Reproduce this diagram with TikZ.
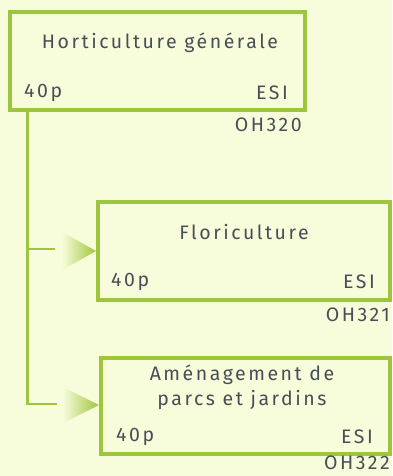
\documentclass[tikz,border=0pt]{standalone}
\usepackage{fontspec}
\setmainfont{Fira Sans}[LetterSpace=13]
\usetikzlibrary{positioning}
\definecolor{bgcol}{RGB}{247,252,218}
\definecolor{leaf}{RGB}{157,198,62}
\definecolor{ink}{RGB}{72,78,88}
\begin{document}
\begin{tikzpicture}[x=1pt,y=-1pt,
    course/.style={draw=leaf,line width=4pt,inner sep=0pt},
    txt/.style={text=ink,font=\fontsize{19.5}{25}\selectfont,inner sep=0pt},
    branch/.style={draw=leaf,line width=2.5pt}]
  \fill[bgcol] (0,0) rectangle (392,476);
  \useasboundingbox (0,0) rectangle (392,476);
  \node[course,minimum width=295pt,minimum height=98pt] (hg) at (157.5,61) {};
  \node[course,minimum width=292pt,minimum height=98pt] (fl) at (244,251) {};
  \node[course,minimum width=289pt,minimum height=96pt] (am) at (245.5,406) {};
  \node[txt] (hgtitle) at (160,43) {Horticulture générale};
  \node[txt,anchor=west] (hgp) at (24,93) {40p};
  \node[txt,anchor=east] (hgesi) at (288,93) {ESI};
  \node[txt,anchor=east] (hgcode) at (302,125) {OH320};
  \node[txt] (fltitle) at (244,232) {Floriculture};
  \node[txt,anchor=west] (flp) at (111,282) {40p};
  \node[txt,anchor=east] (flesi) at (375,282) {ESI};
  \node[txt,anchor=east] (flcode) at (390,315) {OH321};
  \node[txt,align=center] (amtitle) at (242,387) {Aménagement de\\parcs et jardins};
  \node[txt,anchor=west] (amp) at (116,437) {40p};
  \node[txt,anchor=east] (amesi) at (373,437) {ESI};
  \node[txt,anchor=east] (amcode) at (390,463) {OH322};
  \coordinate (root) at (27.5,110);
  \coordinate (flend) at (55,249);
  \coordinate (amend) at (57,404);
  \draw[branch] (root) |- (flend);
  \draw[branch] (root) |- (amend);
  \shade[left color=bgcol,right color=leaf] (62,232) -- (fl.west |- 0,251) -- (62,270) -- cycle;
  \shade[left color=bgcol,right color=leaf] (63,387) -- (am.west |- 0,405) -- (63,423) -- cycle;
\end{tikzpicture}
\end{document}
